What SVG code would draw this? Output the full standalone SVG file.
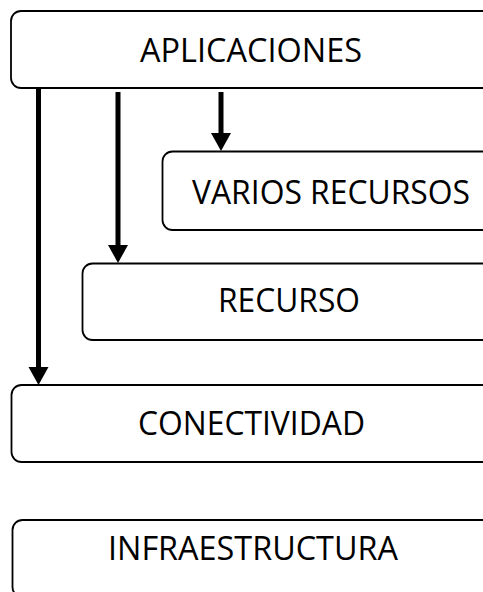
<svg xmlns="http://www.w3.org/2000/svg" width="483" height="592" viewBox="0 0 483 592">
<style>
.box{fill:#fff;stroke:#000;stroke-width:1.8}
.lbl{font-family:"Open Sans","Liberation Sans",sans-serif;font-size:32px;fill:#000;text-anchor:middle}
.conn{stroke:#000;stroke-width:5;fill:none}
.head{fill:#000;stroke:none}
</style>
<rect width="483" height="592" fill="#fff"/>
<g id="aplicaciones">
<rect class="box" x="11" y="11" width="500" height="77" rx="10"/>
<text class="lbl" x="251" y="62" textLength="222" lengthAdjust="spacingAndGlyphs">APLICACIONES</text>
</g>
<g id="varios-recursos">
<rect class="box" x="162.5" y="151.5" width="360" height="78.5" rx="10"/>
<text class="lbl" x="331" y="204" textLength="278" lengthAdjust="spacingAndGlyphs">VARIOS RECURSOS</text>
</g>
<g id="recurso">
<rect class="box" x="82.5" y="263.5" width="440" height="76.5" rx="10"/>
<text class="lbl" x="289" y="312" textLength="142" lengthAdjust="spacingAndGlyphs">RECURSO</text>
</g>
<g id="conectividad">
<rect class="box" x="11.5" y="385" width="500" height="77" rx="10"/>
<text class="lbl" x="251.5" y="435" textLength="227" lengthAdjust="spacingAndGlyphs">CONECTIVIDAD</text>
</g>
<g id="infraestructura">
<rect class="box" x="12.5" y="520" width="500" height="77" rx="10"/>
<text class="lbl" x="253" y="560" textLength="290" lengthAdjust="spacingAndGlyphs">INFRAESTRUCTURA</text>
</g>
<g id="connectors">
<line class="conn" x1="38.5" y1="89" x2="38.5" y2="369"/>
<polygon class="head" points="28.5,367 48.5,367 38.5,385"/>
<line class="conn" x1="118" y1="92" x2="118" y2="247"/>
<polygon class="head" points="108,245 128,245 118,263"/>
<line class="conn" x1="221" y1="92" x2="221" y2="135"/>
<polygon class="head" points="211,133 231,133 221,151"/>
</g>
</svg>
